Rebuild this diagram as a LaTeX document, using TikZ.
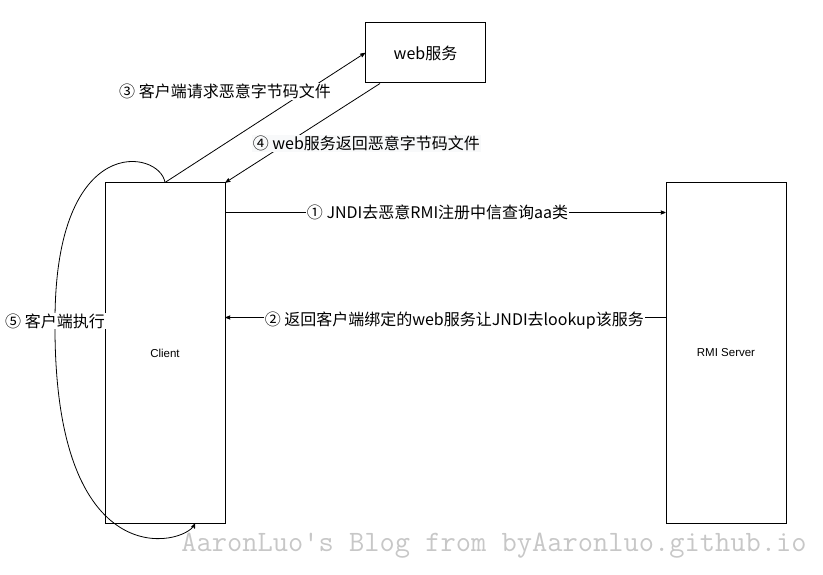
\documentclass[tikz,border=0pt]{standalone}
\usepackage{fontspec}
\setmainfont{Liberation Sans}
\newfontfamily\cjk{Noto Sans CJK SC}
\usetikzlibrary{arrows,positioning}
\definecolor{labelbg}{RGB}{248,249,250}

\begin{document}
\begin{tikzpicture}[x=1pt,y=-1pt,>=stealth',node distance=440pt,
    box/.style={draw,line width=1pt,minimum width=120pt,inner sep=0pt},
    tall/.style={box,minimum height=340pt,font=\fontsize{11.5}{14}\selectfont},
    msg/.style={font=\cjk\fontsize{16}{19}\selectfont,inner sep=1pt,fill=white}]
  \useasboundingbox (0,0) rectangle (823,575);

  \node[box,minimum height=60pt,font=\cjk\fontsize{16}{19}\selectfont] (web) at (425.5,53) {web服务};
  \node[tall] (client) at (165,353) {Client};
  \node[tall] (rmi) [right=of client] {RMI Server};

  \path[->,line width=0.8pt]
  (client.north) edge node[msg,pos=0.7,xshift=-80pt] {③ 客户端请求恶意字节码文件} (web.west)
  ([xshift=15pt]web.south west) edge node[msg,fill=labelbg,pos=0.606,xshift=80pt] {④ web服务返回恶意字节码文件} (client.north east)

  ([yshift=-30pt]client.north east) edge node[msg,pos=0.482] {① JNDI去恶意RMI注册中信查询aa类} ([yshift=-30pt]rmi.north west)
  ([yshift=-135pt]rmi.north west) edge node[msg,pos=0.48,yshift=-3pt] {② 返回客户端绑定的web服务让JNDI去lookup该服务} ([yshift=-135pt]client.north east)
  ;

  \draw[->,line width=0.8pt] (client.north) .. controls (160,150) and (55,130) .. (55,321)
    node[msg] {⑤ 客户端执行}
    .. controls (53,580) and (185,545) .. ([xshift=30pt]client.south);

  \node[font=\ttfamily\fontsize{29.6}{31}\selectfont,text=black!22,anchor=base] (mark) at (494,551) {AaronLuo's Blog from byAaronluo.github.io};
\end{tikzpicture}
\end{document}
